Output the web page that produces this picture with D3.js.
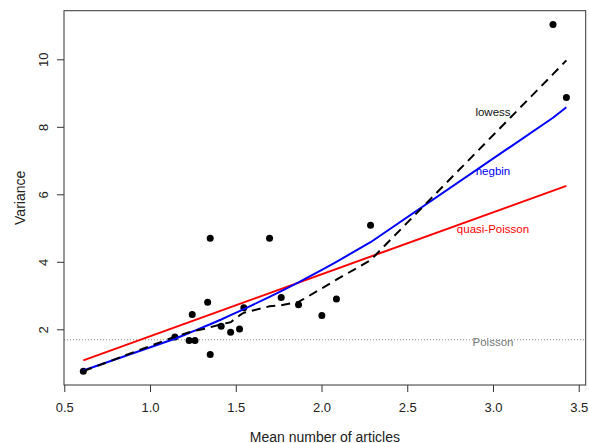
<!DOCTYPE html>
<html>
<head>
<meta charset="utf-8">
<script src="https://cdn.jsdelivr.net/npm/d3@7"></script>
<style>
    body { margin: 0; background: #fff; }
    svg { display: block; font-family: "Liberation Sans", Arial, sans-serif; }
</style>
</head>
<body>
<div id="chart"></div>
<script>
// data (sorted by mean)
var meanArticles = [0.611, 1.145, 1.228, 1.246, 1.262, 1.336, 1.351, 1.351, 1.415, 1.470,
                    1.522, 1.547, 1.697, 1.765, 1.866, 2.002, 2.087, 2.286, 3.350, 3.428];
var varArticles  = [0.76, 1.77, 1.67, 2.44, 1.67, 2.80, 4.70, 1.25, 2.09, 1.91,
                    2.01, 2.64, 4.70, 2.94, 2.73, 2.41, 2.90, 5.08, 11.03, 8.87];

// fitted curves, same x as above
var negbinFit = [0.78, 1.72, 1.89, 1.93, 1.96, 2.12, 2.15, 2.15, 2.29, 2.42,
                 2.54, 2.60, 2.96, 3.13, 3.39, 3.76, 4.00, 4.58, 8.27, 8.58];
var lowessFit = [0.76, 1.78, 1.91, 1.94, 1.96, 2.03, 2.06, 2.06, 2.15, 2.21,
                 2.41, 2.49, 2.68, 2.71, 2.81, 3.21, 3.47, 4.05, 9.56, 9.97];
var quasiX   = [0.611, 3.428];
var quasiFit = [1.08, 6.25];
var poissonLevel = 1.69;

var xTicks = [0.5, 1.0, 1.5, 2.0, 2.5, 3.0, 3.5];
var yTicks = [2, 4, 6, 8, 10];

var fitNames = ['lowess', 'negbin', 'quasi-Poisson', 'Poisson'];
var fitLabelX = [3.0, 3.0, 3.0, 3.0];
var fitLabelY = [8.44, 6.68, 4.96, 1.61];

var fitColors = { 'lowess': '#111', 'negbin': 'blue', 'quasi-Poisson': 'red', 'Poisson': '#777' };

var width = 589, height = 443;
var box = { left: 64, right: 585.7, top: 10.7, bottom: 385 };

// R style axis range: data extent padded by 4%
function padExtent(vals) {
    var e = d3.extent(vals), r = e[1] - e[0];
    return [e[0] - 0.04 * r, e[1] + 0.04 * r];
}

var x = d3.scaleLinear().domain(padExtent(meanArticles)).range([box.left, box.right]);
var y = d3.scaleLinear().domain(padExtent(varArticles)).range([box.bottom, box.top]);

var svg = d3.select('#chart')
            .append('svg')
            .attr('width', width)
            .attr('height', height);

// poisson reference line across the whole box
svg.append('line')
    .attr('x1', box.left)
    .attr('x2', box.right)
    .attr('y1', y(poissonLevel))
    .attr('y2', y(poissonLevel))
    .attr('stroke', '#888')
    .attr('stroke-width', 1)
    .attr('stroke-dasharray', '1,2');

// points
svg.selectAll('circle')
    .data(meanArticles)
    .enter()
    .append('circle')
    .attr('cx', function (d) { return x(d); })
    .attr('cy', function (d, i) { return y(varArticles[i]); })
    .attr('r', 3.5)
    .attr('fill', '#000');

var line = d3.line()
    .x(function (d) { return x(d[0]); })
    .y(function (d) { return y(d[1]); });

svg.append('path')
    .attr('d', line(d3.zip(quasiX, quasiFit)))
    .attr('fill', 'none')
    .attr('stroke', 'red')
    .attr('stroke-width', 2);

svg.append('path')
    .attr('d', line(d3.zip(meanArticles, negbinFit)))
    .attr('fill', 'none')
    .attr('stroke', 'blue')
    .attr('stroke-width', 2)
    .attr('stroke-linejoin', 'round');

svg.append('path')
    .attr('d', line(d3.zip(meanArticles, lowessFit)))
    .attr('fill', 'none')
    .attr('stroke', '#000')
    .attr('stroke-width', 2)
    .attr('stroke-dasharray', '9,6')
    .attr('stroke-linejoin', 'round');

// labels for the curves
svg.selectAll('text.fit')
    .data(fitNames)
    .enter()
    .append('text')
    .attr('class', 'fit')
    .attr('x', function (d, i) { return x(fitLabelX[i]); })
    .attr('y', function (d, i) { return y(fitLabelY[i]); })
    .attr('dy', '0.35em')
    .attr('text-anchor', 'middle')
    .attr('font-size', '11.5px')
    .attr('fill', function (d) { return fitColors[d]; })
    .text(function (d) { return d; });

// axes
var xAxis = svg.append('g')
    .attr('transform', 'translate(0,' + box.bottom + ')')
    .call(d3.axisBottom(x).tickValues(xTicks).tickSize(7).tickFormat(d3.format('.1f')));

var yAxis = svg.append('g')
    .attr('transform', 'translate(' + box.left + ',0)')
    .call(d3.axisLeft(y).tickValues(yTicks).tickSize(7).tickFormat(d3.format('d')));

[xAxis, yAxis].forEach(function (g) {
    g.select('.domain').remove();
    g.selectAll('line').attr('stroke', '#333');
    g.selectAll('text')
        .attr('fill', '#222')
        .attr('font-size', '13px')
        .attr('font-family', '"Liberation Sans", Arial, sans-serif');
});

xAxis.selectAll('text')
    .attr('y', 26.5)
    .attr('dy', null);

yAxis.selectAll('text')
    .attr('x', null)
    .attr('dy', null)
    .attr('text-anchor', 'middle')
    .attr('transform', 'translate(-15.7,0) rotate(-90)');

// frame
svg.append('rect')
    .attr('x', box.left)
    .attr('y', box.top)
    .attr('width', box.right - box.left)
    .attr('height', box.bottom - box.top)
    .attr('fill', 'none')
    .attr('stroke', '#333')
    .attr('stroke-width', 1);

// axis titles
svg.append('text')
    .attr('x', (box.left + box.right) / 2)
    .attr('y', 441.5)
    .attr('text-anchor', 'middle')
    .attr('font-size', '14px')
    .attr('fill', '#222')
    .text('Mean number of articles');

svg.append('text')
    .attr('transform', 'translate(25,' + ((box.top + box.bottom) / 2) + ') rotate(-90)')
    .attr('text-anchor', 'middle')
    .attr('font-size', '14px')
    .attr('fill', '#222')
    .text('Variance');
</script>
</body>
</html>
